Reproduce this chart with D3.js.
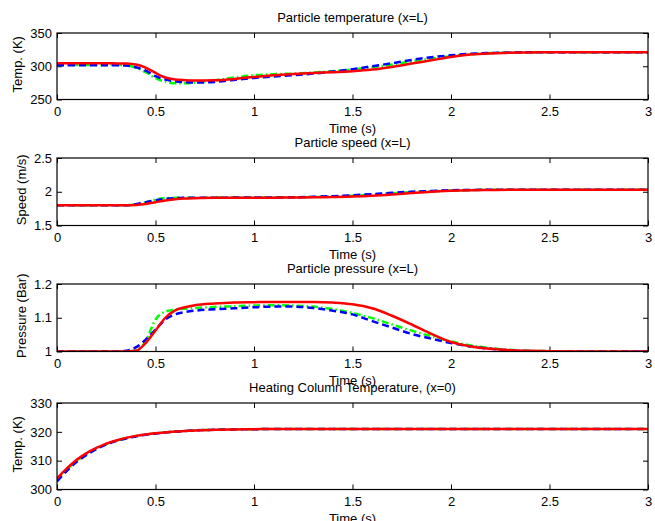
<!DOCTYPE html>
<html>
<head>
<meta charset="utf-8">
<script src="https://cdn.jsdelivr.net/npm/d3@7"></script>
<style>
  body { margin: 0; background: #fff; }
  svg text { font-family: "Liberation Sans", Arial, sans-serif; font-size: 13px; fill: #000; }
</style>
</head>
<body>
<svg id="chart" width="655" height="521"></svg>
<script>
// time samples (s), shared by every series
var time = [0, 0.05, 0.1, 0.15, 0.2, 0.25, 0.3, 0.35, 0.4, 0.45, 0.5, 0.55, 0.6, 0.65, 0.7,
            0.8, 0.9, 1.0, 1.1, 1.2, 1.3, 1.4, 1.5, 1.6, 1.7, 1.8, 1.9, 2.0, 2.1, 2.2, 2.3,
            2.4, 2.5, 2.75, 3.0];

// particle temperature at x=L (K)
var tempRed   = [304.5, 304.5, 304.5, 304.5, 304.5, 304.5, 304.3, 304, 302.5, 298, 290, 283, 280, 279, 278.5,
                 279, 281, 284, 286.5, 288.5, 290, 291, 292.5, 295, 299, 304, 309, 314, 317.5, 319.3, 320.3,
                 320.8, 321, 321, 321];
var tempBlue  = [301.5, 301.5, 301.5, 301.5, 301.5, 301.5, 301.5, 301, 298.5, 293.5, 285, 280, 277.5, 276, 275.5,
                 276.5, 279.5, 282.5, 284.5, 286.5, 289, 292, 295.5, 300, 304.5, 309.5, 313.5, 316.5, 318.8, 320, 320.6,
                 321, 321, 321, 321];
var tempGreen = [302, 302, 302, 302, 302, 302, 302, 301.5, 298, 291, 282, 276.5, 274.5, 274.5, 275.5,
                 279, 283, 286.5, 288, 289, 290.5, 292.5, 295, 298.5, 302.5, 307.5, 311.5, 315, 318, 319.8, 320.5,
                 321, 321, 321, 321];

// particle speed at x=L (m/s)
var speedRed   = [1.8, 1.8, 1.8, 1.8, 1.8, 1.8, 1.8, 1.8, 1.805, 1.82, 1.845, 1.87, 1.89, 1.9, 1.905,
                  1.91, 1.91, 1.91, 1.912, 1.915, 1.918, 1.922, 1.928, 1.94, 1.958, 1.98, 2.0, 2.013, 2.022, 2.027, 2.03,
                  2.03, 2.03, 2.03, 2.03];
var speedBlue  = [1.8, 1.8, 1.8, 1.8, 1.8, 1.8, 1.8, 1.8, 1.815, 1.845, 1.875, 1.895, 1.905, 1.91, 1.91,
                  1.912, 1.913, 1.914, 1.915, 1.918, 1.925, 1.935, 1.948, 1.965, 1.985, 2.0, 2.012, 2.022, 2.027, 2.03, 2.03,
                  2.03, 2.03, 2.03, 2.03];
var speedGreen = [1.8, 1.8, 1.8, 1.8, 1.8, 1.8, 1.8, 1.8, 1.81, 1.84, 1.885, 1.905, 1.91, 1.912, 1.912,
                  1.913, 1.914, 1.915, 1.916, 1.918, 1.922, 1.93, 1.94, 1.957, 1.977, 1.995, 2.008, 2.018, 2.025, 2.029, 2.03,
                  2.03, 2.03, 2.03, 2.03];

// particle pressure at x=L (Bar)
var presRed   = [1, 1, 1, 1, 1, 1, 1, 1, 1.002, 1.025, 1.062, 1.1, 1.122, 1.131, 1.137,
                 1.142, 1.145, 1.146, 1.147, 1.147, 1.147, 1.145, 1.14, 1.128, 1.106, 1.08, 1.052, 1.028, 1.015, 1.008, 1.004,
                 1.002, 1.001, 1, 1];
var presBlue  = [1, 1, 1, 1, 1, 1, 1, 1.002, 1.012, 1.035, 1.065, 1.095, 1.11, 1.117, 1.121,
                 1.125, 1.128, 1.131, 1.133, 1.133, 1.129, 1.121, 1.11, 1.09, 1.071, 1.052, 1.038, 1.025, 1.015, 1.008, 1.003,
                 1.001, 1, 1, 1];
var presGreen = [1, 1, 1, 1, 1, 1, 1, 1, 1.003, 1.03, 1.095, 1.118, 1.124, 1.127, 1.129,
                 1.132, 1.134, 1.136, 1.137, 1.136, 1.133, 1.126, 1.114, 1.099, 1.08, 1.062, 1.045, 1.03, 1.018, 1.01, 1.005,
                 1.002, 1.001, 1, 1];

// heating column temperature at x=0 (K)
var colRed   = [303.8, 307.3, 310.3, 312.6, 314.4, 315.9, 317, 317.9, 318.6, 319.1, 319.5, 319.8, 320.1, 320.3, 320.5,
                320.7, 320.85, 320.9, 321, 321, 321, 321, 321, 321, 321, 321, 321, 321, 321, 321, 321,
                321, 321, 321, 321];
var colBlue  = [302.8, 306.5, 309.6, 312, 314, 315.6, 316.8, 317.7, 318.4, 319, 319.4, 319.8, 320.1, 320.3, 320.5,
                320.7, 320.85, 320.9, 321, 321, 321, 321, 321, 321, 321, 321, 321, 321, 321, 321, 321,
                321, 321, 321, 321];
var colGreen = [303.3, 306.9, 310, 312.3, 314.2, 315.75, 316.9, 317.8, 318.5, 319.05, 319.45, 319.8, 320.1, 320.3, 320.5,
                320.7, 320.85, 320.9, 321, 321, 321, 321, 321, 321, 321, 321, 321, 321, 321, 321, 321,
                321, 321, 321, 321];

var xTicks = [0, 0.5, 1, 1.5, 2, 2.5, 3];
var tempTicks = [250, 300, 350];
var speedTicks = [1.5, 2, 2.5];
var presTicks = [1, 1.1, 1.2];
var colTicks = [300, 310, 320, 330];

var svg = d3.select("#chart");
var left = 57, right = 648;
var x = d3.scaleLinear().domain([0, 3]).range([left, right]);

// green dash-dot, blue dashed, red solid (drawn in that order)
var styles = [
  {color: "#00ff00", dash: "7,3,1.5,3"},
  {color: "#0000ff", dash: "7,4"},
  {color: "#ff0000", dash: null}
];

var panels = [
  {title: "Particle temperature (x=L)", ylabel: "Temp. (K)", top: 33, h: 66.5, domain: [250, 350],
   ticks: tempTicks, series: [tempGreen, tempBlue, tempRed], labelX: 17},
  {title: "Particle speed (x=L)", ylabel: "Speed (m/s)", top: 158, h: 67.5, domain: [1.5, 2.5],
   ticks: speedTicks, series: [speedGreen, speedBlue, speedRed], labelX: 21.5},
  {title: "Particle pressure (x=L)", ylabel: "Pressure (Bar)", top: 284, h: 67.5, domain: [1, 1.2],
   ticks: presTicks, series: [presGreen, presBlue, presRed], labelX: 21.5},
  {title: "Heating Column Temperature, (x=0)", ylabel: "Temp. (K)", top: 403, h: 86.5, domain: [300, 330],
   ticks: colTicks, series: [colGreen, colBlue, colRed], labelX: 17}
];

panels.forEach(function(p, i) {
  var bottom = p.top + p.h;
  var y = d3.scaleLinear().domain(p.domain).range([bottom, p.top]);
  var g = svg.append("g");

  g.append("clipPath").attr("id", "clip" + i)
    .append("rect").attr("x", left).attr("y", p.top).attr("width", right - left).attr("height", p.h);

  // ticks point inward on all four sides, labels only bottom and left
  g.append("g").attr("transform", "translate(0," + bottom + ")")
    .call(d3.axisBottom(x).tickValues(xTicks).tickSize(-5).tickPadding(7).tickFormat(d3.format("~g")));
  g.append("g").attr("transform", "translate(0," + p.top + ")")
    .call(d3.axisTop(x).tickValues(xTicks).tickSize(-5).tickFormat(""));
  g.append("g").attr("transform", "translate(" + left + ",0)")
    .call(d3.axisLeft(y).tickValues(p.ticks).tickSize(-5).tickPadding(5).tickFormat(d3.format("~g")));
  g.append("g").attr("transform", "translate(" + right + ",0)")
    .call(d3.axisRight(y).tickValues(p.ticks).tickSize(-5).tickFormat(""));

  g.selectAll(".domain").remove();
  g.selectAll(".tick line").attr("stroke", "#000");
  g.selectAll(".tick text").style("font-size", "13px").attr("fill", "#000");

  var line = d3.line()
    .x(function(d, k) { return x(time[k]); })
    .y(function(d) { return y(d); })
    .curve(d3.curveMonotoneX);

  var lines = g.append("g").attr("clip-path", "url(#clip" + i + ")");
  p.series.forEach(function(s, k) {
    lines.append("path")
      .datum(s)
      .attr("d", line)
      .attr("fill", "none")
      .attr("stroke", styles[k].color)
      .attr("stroke-width", 2.5)
      .attr("stroke-dasharray", styles[k].dash);
  });

  g.append("rect")
    .attr("x", left).attr("y", p.top)
    .attr("width", right - left).attr("height", p.h)
    .attr("fill", "none").attr("stroke", "#000").attr("stroke-width", 1.2);

  g.append("text")
    .attr("x", (left + right) / 2).attr("y", p.top - 11)
    .attr("text-anchor", "middle")
    .text(p.title);

  g.append("text")
    .attr("x", (left + right) / 2).attr("y", bottom + 33)
    .attr("text-anchor", "middle")
    .text("Time (s)");

  g.append("text")
    .attr("transform", "translate(" + p.labelX + "," + (p.top + p.h / 2 - 2) + ") rotate(-90)")
    .attr("dy", "0.35em")
    .attr("text-anchor", "middle")
    .text(p.ylabel);
});
</script>
</body>
</html>
